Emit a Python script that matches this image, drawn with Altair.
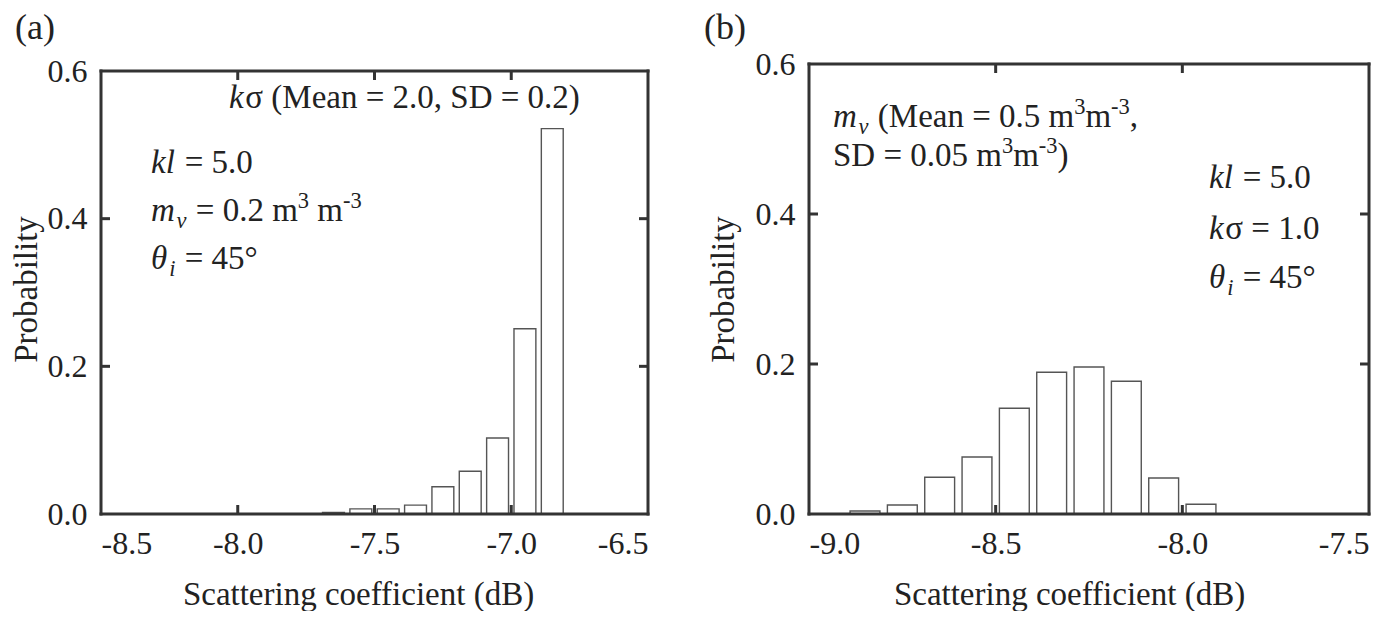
import altair as alt
import pandas as pd

# ---------------- data ----------------
a_centers = [-7.65, -7.55, -7.45, -7.35, -7.25, -7.15, -7.05, -6.95, -6.85]
a_prob = [0.002, 0.007, 0.007, 0.012, 0.037, 0.058, 0.103, 0.251, 0.522]
a_xticks = [-8.5, -8.0, -7.5, -7.0, -6.5]

b_centers = [-8.85, -8.75, -8.65, -8.55, -8.45, -8.35, -8.25, -8.15, -8.05, -7.95]
b_prob = [0.004, 0.012, 0.049, 0.076, 0.141, 0.189, 0.196, 0.177, 0.048, 0.013]
b_xticks = [-9.0, -8.5, -8.0, -7.5]

y_ticks = [0.0, 0.2, 0.4, 0.6]
x_title = "Scattering coefficient (dB)"
y_title = "Probability"

# ---------------- styling ----------------
FONT = "Liberation Serif"
F_TICK = 32
F_TEXT = 33
INK = "#222222"
FRAME = "#333333"
HALF_W = 0.04
TICK_LEN = 9

W_REG = {' ': 0.25, '=': 0.564, '.': 0.25, ',': 0.25, '(': 0.333, ')': 0.333,
         'M': 0.889, 'e': 0.444, 'a': 0.444, 'n': 0.5, 'S': 0.556, 'D': 0.722,
         'm': 0.778, '-': 0.333, '°': 0.4, 'σ': 0.55}
W_IT = {'k': 0.444, 'l': 0.278, 'm': 0.722, 'θ': 0.5, 'i': 0.278, 'ν': 0.444}


def text_width(s, italic, size):
    tot = 0.0
    for ch in s:
        if ch.isdigit():
            tot += 0.5
        elif italic:
            tot += W_IT.get(ch, 0.45)
        else:
            tot += W_REG.get(ch, 0.45)
    return tot * size


def annotation(x0, y0, segs, size=F_TEXT):
    layers = []
    x = x0
    for kind, s in segs:
        italic = kind in ("i", "isub")
        if kind == "isub":
            fs, dy = size * 0.68, size * 0.22
        elif kind == "sup":
            fs, dy = size * 0.68, -size * 0.4
        else:
            fs, dy = size, 0
        lead = len(s) - len(s.lstrip(" "))
        core = s.strip(" ")
        trail = len(s) - lead - len(core)
        x += lead * 0.25 * fs
        layers.append(
            alt.Chart(pd.DataFrame({"t": [core]}))
            .mark_text(font=FONT, fontSize=fs, fontStyle="italic" if italic else "normal",
                       align="left", baseline="alphabetic", color=INK)
            .encode(x=alt.value(x), y=alt.value(y0 + dy), text="t:N")
        )
        x += text_width(core, italic, fs) + trail * 0.25 * fs
        if italic:
            x += 0.05 * fs
    return layers


def panel(centers, probs, xdom, xvals, inner_x, W, H, ymax, notes, label, label_xy,
          title_x, ytitle_pad):
    df = pd.DataFrame({"c": centers, "p": probs})
    xscale = alt.Scale(domain=xdom, nice=False, zero=False)
    yscale = alt.Scale(domain=[0, ymax], nice=False, zero=False)
    lab = "(datum.value < 0 ? '-' : '') + format(abs(datum.value), '.1f')"
    xaxis = alt.Axis(values=xvals, labelExpr=lab, title=x_title,
                     labelPadding=14, titlePadding=19,
                     titleX=title_x, titleAlign="center")
    yaxis = alt.Axis(values=y_ticks, format=".1f", title=y_title,
                     labelPadding=14, titlePadding=ytitle_pad)

    bars = (
        alt.Chart(df)
        .transform_calculate(lo=f"datum.c - {HALF_W}", hi=f"datum.c + {HALF_W}")
        .mark_rect(fill="white", stroke="#555555", strokeWidth=1.4)
        .encode(
            x=alt.X("lo:Q", scale=xscale, axis=xaxis),
            x2="hi:Q",
            y=alt.Y("p:Q", scale=yscale, axis=yaxis),
            y2=alt.datum(0),
        )
    )

    # frame and inward ticks, expressed in data units of the two scales
    x0, x1 = xdom
    ytop = y_ticks[-1]
    dx = TICK_LEN * (x1 - x0) / W
    dy = TICK_LEN * ymax / H
    segs = [(x0, x1, 0.0, 0.0), (x0, x1, ytop, ytop), (x0, x0, 0.0, ytop), (x1, x1, 0.0, ytop)]
    frame = pd.DataFrame(segs, columns=["xa", "xb", "ya", "yb"])
    tk = []
    for v in inner_x:
        tk.append((v, v, 0.0, dy))
        tk.append((v, v, ytop, ytop - dy))
    for v in [0.2, 0.4]:
        tk.append((x0, x0 + dx, v, v))
        tk.append((x1, x1 - dx, v, v))
    ticks = pd.DataFrame(tk, columns=["xa", "xb", "ya", "yb"])

    def rules(d, cap):
        return alt.Chart(d).mark_rule(color=FRAME, strokeWidth=3, strokeCap=cap).encode(
            x=alt.X("xa:Q", scale=xscale, axis=xaxis), x2="xb:Q",
            y=alt.Y("ya:Q", scale=yscale, axis=yaxis), y2="yb:Q")

    texts = []
    for (ax, ay, sg) in notes:
        texts += annotation(ax, ay, sg)

    lbl = (
        alt.Chart(pd.DataFrame({"t": [label]}))
        .mark_text(font=FONT, fontSize=36, align="left", baseline="alphabetic", color=INK)
        .encode(x=alt.value(label_xy[0]), y=alt.value(label_xy[1]), text="t:N")
    )

    return alt.layer(bars, rules(ticks, "butt"), rules(frame, "square"), *texts, lbl).properties(
        width=W, height=H)


H = 450
# left: 0.6 sits 7 px under the top of the plot area
ymax_a = 0.6 * H / 443

notes_a = [
    (128, 44, [("i", "k"), ("n", "σ (Mean = 2.0, SD = 0.2)")]),
    (50, 109, [("i", "kl"), ("n", " = 5.0")]),
    (50, 157, [("i", "m"), ("isub", "ν"), ("n", " = 0.2 m"), ("sup", "3"),
               ("n", " m"), ("sup", "-3")]),
    (50, 205, [("i", "θ"), ("isub", "i"), ("n", " = 45°")]),
]
notes_b = [
    (24, 63, [("i", "m"), ("isub", "ν"), ("n", " (Mean = 0.5 m"), ("sup", "3"),
              ("n", "m"), ("sup", "-3"), ("n", ",")]),
    (24, 102, [("n", "SD = 0.05 m"), ("sup", "3"), ("n", "m"), ("sup", "-3"), ("n", ")")]),
    (400, 124, [("i", "kl"), ("n", " = 5.0")]),
    (400, 175, [("i", "k"), ("n", "σ = 1.0")]),
    (400, 224, [("i", "θ"), ("isub", "i"), ("n", " = 45°")]),
]

left = panel(a_centers, a_prob, [-8.5, -6.5], a_xticks, [-8.0, -7.5, -7.0],
             547, H, ymax_a, notes_a, "(a)", (-86, -25), 257, 4)
right = panel(b_centers, b_prob, [-9.0, -7.5], b_xticks, [-8.5, -8.0],
              560, H, 0.6, notes_b, "(b)", (-105, -25), 260, 15)

chart = (
    alt.hconcat(left, right, spacing=53)
    .properties(padding={"left": 2, "top": 2, "right": 0, "bottom": 0}, background="white")
    .configure_axis(labelFont=FONT, titleFont=FONT, labelFontSize=F_TICK,
                    titleFontSize=F_TEXT, labelColor=INK, titleColor=INK,
                    titleFontWeight="normal", ticks=False, tickSize=0,
                    domain=False, grid=False)
    .configure_view(stroke=None)
)

chart.save("out.html", embed_options={"renderer": "svg", "actions": False})
